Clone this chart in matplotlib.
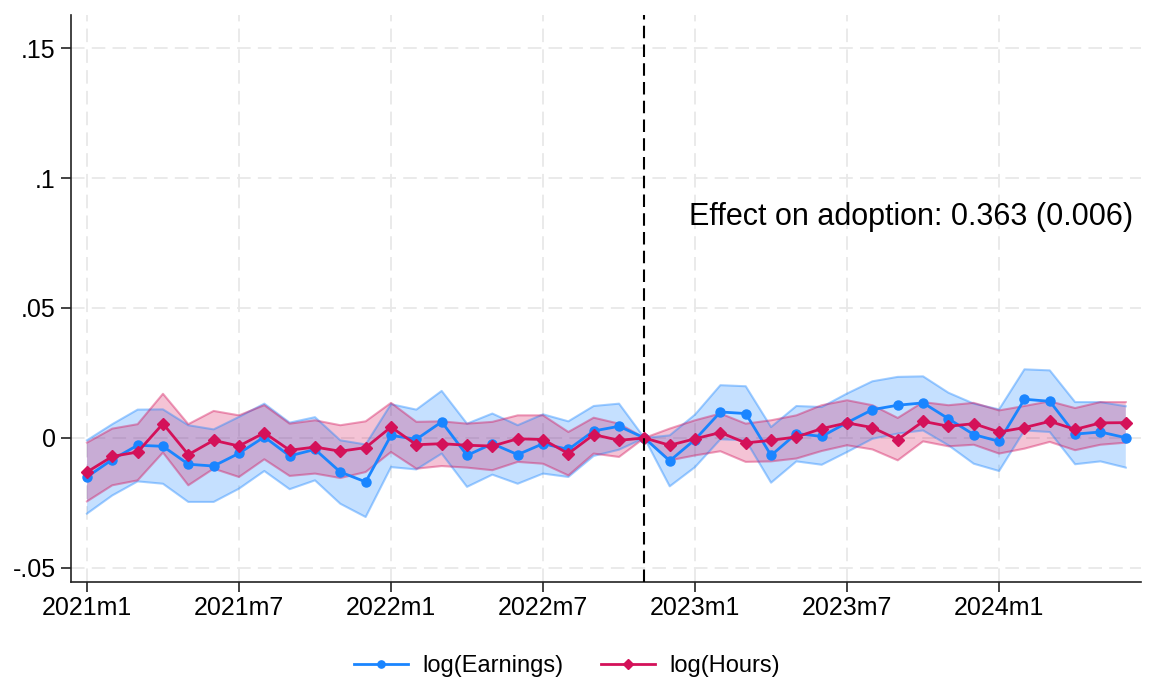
import matplotlib
matplotlib.use("Agg")
import matplotlib.pyplot as plt
import numpy as np

plt.rcParams['font.family'] = ['Liberation Sans', 'DejaVu Sans']

# months 2021m1 .. 2024m6 (index 0..41)
months = list(range(42))
tick_pos = [0, 6, 12, 18, 24, 30, 36]
tick_labels = ["2021m1", "2021m7", "2022m1", "2022m7", "2023m1", "2023m7", "2024m1"]
ytick_vals = [-0.05, 0, 0.05, 0.1, 0.15]
ytick_labels = ["-.05", "0", ".05", ".1", ".15"]

earn = [-0.0150, -0.0083, -0.0028, -0.0032, -0.0101, -0.0108, -0.0059, 0.0004, -0.0069, -0.0044,
        -0.0131, -0.0169, 0.0010, -0.0005, 0.0062, -0.0067, -0.0022, -0.0064, -0.0022, -0.0044,
        0.0027, 0.0045, 0.0, -0.0088, -0.0006, 0.0100, 0.0094, -0.0067, 0.0017, 0.0006,
        0.0059, 0.0109, 0.0126, 0.0135, 0.0074, 0.0013, -0.0013, 0.0149, 0.0141, 0.0015,
        0.0023, 0.0001]
earn_hi = [-0.0009, 0.0053, 0.0109, 0.0110, 0.0049, 0.0033, 0.0081, 0.0132, 0.0059, 0.0080,
           -0.0009, -0.0025, 0.0130, 0.0109, 0.0181, 0.0055, 0.0094, 0.0049, 0.0091, 0.0064,
           0.0123, 0.0132, 0.0, 0.0010, 0.0090, 0.0203, 0.0199, 0.0042, 0.0123, 0.0119,
           0.0171, 0.0218, 0.0235, 0.0237, 0.0174, 0.0132, 0.0110, 0.0264, 0.0260, 0.0138,
           0.0138, 0.0122]
earn_lo = [-0.0291, -0.0221, -0.0167, -0.0176, -0.0246, -0.0246, -0.0195, -0.0127, -0.0197, -0.0163,
           -0.0253, -0.0304, -0.0112, -0.0121, -0.0060, -0.0188, -0.0141, -0.0176, -0.0137, -0.0150,
           -0.0069, -0.0045, 0.0, -0.0186, -0.0112, -0.0005, -0.0009, -0.0172, -0.0090, -0.0103,
           -0.0054, -0.0003, 0.0017, 0.0029, -0.0028, -0.0099, -0.0127, 0.0029, 0.0023, -0.0101,
           -0.0090, -0.0114]

hours = [-0.0131, -0.0071, -0.0054, 0.0055, -0.0064, -0.0009, -0.0031, 0.0020, -0.0047, -0.0035,
         -0.0051, -0.0037, 0.0042, -0.0026, -0.0022, -0.0028, -0.0031, -0.0003, -0.0006, -0.0060,
         0.0013, -0.0009, 0.0, -0.0028, -0.0003, 0.0021, -0.0019, -0.0009, 0.0004, 0.0036,
         0.0058, 0.0040, -0.0006, 0.0064, 0.0045, 0.0055, 0.0023, 0.0040, 0.0064, 0.0033,
         0.0058, 0.0059]
hours_hi = [-0.0018, 0.0036, 0.0053, 0.0170, 0.0053, 0.0104, 0.0087, 0.0126, 0.0055, 0.0068,
            0.0049, 0.0064, 0.0135, 0.0062, 0.0064, 0.0055, 0.0062, 0.0087, 0.0087, 0.0023,
            0.0078, 0.0055, 0.0, 0.0036, 0.0068, 0.0094, 0.0055, 0.0068, 0.0087, 0.0126,
            0.0145, 0.0126, 0.0077, 0.0138, 0.0126, 0.0135, 0.0106, 0.0123, 0.0141, 0.0115,
            0.0138, 0.0138]
hours_lo = [-0.0244, -0.0182, -0.0163, -0.0056, -0.0182, -0.0118, -0.0150, -0.0082, -0.0146, -0.0137,
            -0.0154, -0.0131, -0.0054, -0.0118, -0.0108, -0.0114, -0.0124, -0.0092, -0.0099, -0.0144,
            -0.0060, -0.0073, 0.0, -0.0086, -0.0067, -0.0051, -0.0092, -0.0090, -0.0079, -0.0050,
            -0.0028, -0.0044, -0.0086, -0.0013, -0.0032, -0.0026, -0.0060, -0.0041, -0.0015, -0.0047,
            -0.0026, -0.0018]

event_month = 22
annotation = "Effect on adoption: 0.363 (0.006)"

BLUE = "#1a85ff"
RED = "#d41159"

fig = plt.figure(figsize=(11.61, 6.86), dpi=100)
ax = fig.add_axes([71 / 1161, 1 - 582 / 686, (1141 - 71) / 1161, (582 - 15) / 686])

ax.fill_between(months, earn_lo, earn_hi, facecolor=BLUE, alpha=0.25, linewidth=0, zorder=2)
ax.fill_between(months, hours_lo, hours_hi, facecolor=RED, alpha=0.25, linewidth=0, zorder=2)
for lo, hi, c in [(earn_lo, earn_hi, BLUE), (hours_lo, hours_hi, RED)]:
    ax.plot(months, lo, color=c, alpha=0.4, lw=1.5, zorder=3)
    ax.plot(months, hi, color=c, alpha=0.4, lw=1.5, zorder=3)

ax.plot(months, earn, color=BLUE, lw=2, marker='o', ms=6.5, label="log(Earnings)", zorder=4)
ax.plot(months, hours, color=RED, lw=2, marker='D', ms=6, label="log(Hours)", zorder=5)

ax.axvline(event_month, color='black', lw=1.5, ls=(0, (6, 3)), zorder=6)

ax.text(23.77, 0.085, annotation, fontsize=22, ha='left', va='center', zorder=7)

ax.set_xlim(-0.63, 41.6)
ax.set_ylim(-0.0554, 0.1627)
ax.set_xticks(tick_pos)
ax.set_xticklabels(tick_labels)
ax.set_yticks(ytick_vals)
ax.set_yticklabels(ytick_labels)
ax.tick_params(axis='both', labelsize=18, length=7, width=1.2, direction='out', color='#222222')
ax.tick_params(axis='y', pad=4)
ax.tick_params(axis='x', pad=3)

ax.grid(True, color='#e8e8e8', lw=1.3, ls=(0, (7.5, 4)), zorder=0)
ax.set_axisbelow(True)
for s in ['top', 'right']:
    ax.spines[s].set_visible(False)
for s in ['left', 'bottom']:
    ax.spines[s].set_linewidth(1.2)
    ax.spines[s].set_color('#222222')

handles, labels = ax.get_legend_handles_labels()
fig.legend(handles, labels, loc='center', bbox_to_anchor=(567 / 1161, 1 - 666 / 686), ncol=2,
           frameon=False, fontsize=17, handlelength=2.3, columnspacing=1.6, handletextpad=0.6,
           markerscale=0.8)

fig.savefig("out.png", dpi=100)
